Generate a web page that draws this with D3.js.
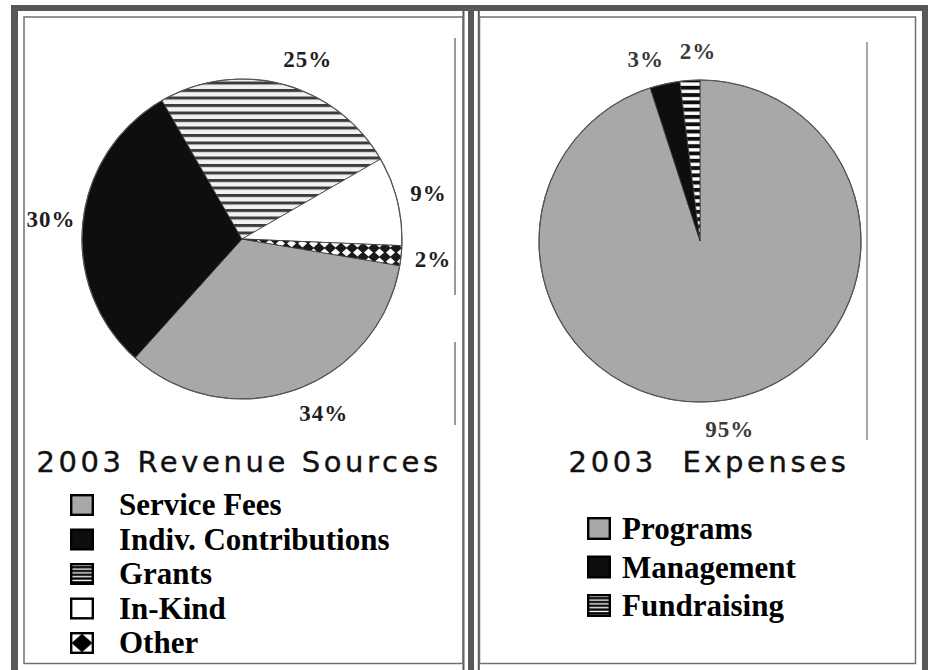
<!DOCTYPE html>
<html>
<head>
<meta charset="utf-8">
<script src="https://cdn.jsdelivr.net/npm/d3@7"></script>
<style>
	body { margin: 0; background: #fff; }
	svg { display: block; }
</style>
</head>
<body>
<div id="chart"></div>
<script>
// Revenue pie
const REVENUE_LABELS = ["Service Fees", "Indiv. Contributions", "Grants", "In-Kind", "Other"];
const REVENUE_VALUES = [34, 30, 25, 9, 2];

// Expense pie
const EXPENSE_LABELS = ["Programs", "Management", "Fundraising"];
const EXPENSE_VALUES = [95, 3, 2];

const TITLES = ["2003 Revenue Sources", "2003\u00A0\u00A0Expenses"];

const GRAY = "#a8a8a8";
const BLACK = "#0e0e0e";
const FRAME = "#585858";

// fills for the pie wedges and for the legend boxes
const PIE_FILL = {
	"Service Fees": GRAY,
	"Indiv. Contributions": BLACK,
	"Grants": "url(#stripes)",
	"In-Kind": "#fff",
	"Other": "url(#diamonds)",
	"Programs": GRAY,
	"Management": BLACK,
	"Fundraising": "url(#dashes)",
};
const KEY_FILL = {
	"Service Fees": GRAY,
	"Indiv. Contributions": BLACK,
	"Grants": "url(#keyStripes)",
	"In-Kind": "#fff",
	"Other": "url(#keyDiamond)",
	"Programs": GRAY,
	"Management": BLACK,
	"Fundraising": "url(#keyStripes)",
};
// small angle nudges (degrees) so labels sit where the original put them
const LABEL_NUDGE = { "Grants": 5, "Service Fees": -6, "Management": -4, "Fundraising": 3 };

var width = 928, height = 670;

var svg = d3.select('#chart').append('svg')
	.attr('width', width)
	.attr('height', height);

var defs = svg.append('defs');

// horizontal stripes for grants
var p = defs.append('pattern').attr('id', 'stripes')
	.attr('patternUnits', 'userSpaceOnUse')
	.attr('width', 8).attr('height', 7.5);
p.append('rect').attr('width', 8).attr('height', 7.5).attr('fill', '#f2f2f2');
p.append('rect').attr('width', 8).attr('height', 3).attr('fill', '#3c3c3c');

// white dashes on black for fundraising
p = defs.append('pattern').attr('id', 'dashes')
	.attr('patternUnits', 'userSpaceOnUse')
	.attr('width', 8).attr('height', 7.3);
p.append('rect').attr('width', 8).attr('height', 7.3).attr('fill', BLACK);
p.append('rect').attr('y', 2).attr('width', 8).attr('height', 3.4).attr('fill', '#fff');

// diamonds for other
p = defs.append('pattern').attr('id', 'diamonds')
	.attr('patternUnits', 'userSpaceOnUse')
	.attr('width', 11).attr('height', 9);
p.append('rect').attr('width', 11).attr('height', 9).attr('fill', '#1a1a1a');
p.append('path').attr('d', 'M5.5,0.5 L10,4.5 L5.5,8.5 L1,4.5 Z').attr('fill', '#fff');

// legend box patterns
p = defs.append('pattern').attr('id', 'keyStripes')
	.attr('patternUnits', 'userSpaceOnUse')
	.attr('width', 4).attr('height', 3.8);
p.append('rect').attr('width', 4).attr('height', 3.8).attr('fill', '#000');
p.append('rect').attr('y', 1.6).attr('width', 4).attr('height', 1.4).attr('fill', '#fff');

p = defs.append('pattern').attr('id', 'keyDiamond')
	.attr('patternUnits', 'objectBoundingBox')
	.attr('patternContentUnits', 'objectBoundingBox')
	.attr('width', 1).attr('height', 1);
p.append('rect').attr('width', 1).attr('height', 1).attr('fill', '#fff');
p.append('path').attr('d', 'M0.5,0.02 L0.98,0.5 L0.5,0.98 L0.02,0.5 Z').attr('fill', '#000');

// Outer frame
svg.append('rect').attr('x', 11).attr('y', 5).attr('width', 917).attr('height', 6).attr('fill', FRAME);
svg.append('rect').attr('x', 11).attr('y', 5).attr('width', 7).attr('height', 665).attr('fill', FRAME);
svg.append('rect').attr('x', 922).attr('y', 5).attr('width', 6).attr('height', 665).attr('fill', FRAME);

// middle divider
svg.append('rect').attr('x', 462.5).attr('y', 11).attr('width', 2).attr('height', 659).attr('fill', FRAME);
svg.append('rect').attr('x', 468).attr('y', 11).attr('width', 6).attr('height', 659).attr('fill', FRAME);
svg.append('rect').attr('x', 477.8).attr('y', 11).attr('width', 2).attr('height', 659).attr('fill', FRAME);

// panels
[[24, 463], [479.5, 915.5]].forEach(function(d) {
	svg.append('rect')
		.attr('x', d[0]).attr('y', 17)
		.attr('width', d[1] - d[0]).attr('height', 646.5)
		.attr('fill', 'none')
		.attr('stroke', '#707070')
		.attr('stroke-width', 1.5);
});

// scan edge lines next to the pies
svg.append('line').attr('x1', 455).attr('x2', 455).attr('y1', 38).attr('y2', 295)
	.attr('stroke', '#333').attr('stroke-width', 1);
svg.append('line').attr('x1', 455).attr('x2', 455).attr('y1', 342).attr('y2', 425)
	.attr('stroke', '#333').attr('stroke-width', 1);
svg.append('line').attr('x1', 867).attr('x2', 867).attr('y1', 42).attr('y2', 440)
	.attr('stroke', '#8a8a8a').attr('stroke-width', 1.5);


function drawPie(opts) {
	var pie = d3.pie()
		.sort(null)
		.value(function(d) { return d.value; })
		.startAngle(opts.start)
		.endAngle(opts.start + 2 * Math.PI);

	var data = opts.labels.map(function(l, i) {
		return { label: l, value: opts.values[i] };
	});
	var arcs = pie(data);

	var arc = d3.arc().innerRadius(0).outerRadius(opts.r);
	var labelArc = d3.arc().innerRadius(opts.labelR).outerRadius(opts.labelR);

	var g = svg.append('g')
		.attr('transform', 'translate(' + opts.cx + ',' + opts.cy + ')');

	g.selectAll('path.slice')
		.data(arcs)
		.enter().append('path')
		.attr('class', 'slice')
		.attr('d', arc)
		.attr('fill', function(d) { return PIE_FILL[d.data.label]; })
		.attr('stroke', '#3a3a3a')
		.attr('stroke-width', 0.8);

	g.append('circle')
		.attr('r', opts.r)
		.attr('fill', 'none')
		.attr('stroke', '#555')
		.attr('stroke-width', 1.2);

	// percent labels
	g.selectAll('text.pct')
		.data(arcs)
		.enter().append('text')
		.attr('class', 'pct')
		.attr('transform', function(d) {
			var nudge = (LABEL_NUDGE[d.data.label] || 0) * Math.PI / 180;
			var c = labelArc.centroid({
				startAngle: d.startAngle + nudge,
				endAngle: d.endAngle + nudge
			});
			return 'translate(' + c[0] + ',' + c[1] + ')';
		})
		.attr('dy', '0.35em')
		.attr('text-anchor', 'middle')
		.attr('font-family', '"Liberation Serif", "Times New Roman", serif')
		.attr('font-weight', 'bold')
		.attr('font-size', 23)
		.attr('letter-spacing', 1)
		.attr('fill', opts.pctColor)
		.text(function(d) { return d.data.value + '%'; });

	// title
	svg.append('text')
		.attr('x', opts.titleX)
		.attr('y', 472)
		.attr('text-anchor', 'middle')
		.attr('font-family', '"DejaVu Sans", Verdana, sans-serif')
		.attr('font-size', 29)
		.attr('letter-spacing', 3.6)
		.attr('fill', '#111')
		.attr('stroke', '#111')
		.attr('stroke-width', 0.4)
		.text(opts.title);

	// legend
	var rowY = d3.scaleLinear()
		.domain([0, opts.labels.length - 1])
		.range(opts.keyRows);

	var key = svg.append('g').attr('class', 'legend');
	var rows = key.selectAll('g')
		.data(opts.labels)
		.enter().append('g')
		.attr('transform', function(d, i) { return 'translate(0,' + rowY(i) + ')'; });

	rows.append('rect')
		.attr('x', opts.keyX + 1.2)
		.attr('y', 1.2)
		.attr('width', 21.6)
		.attr('height', opts.boxH - 2.4)
		.attr('fill', function(d) { return KEY_FILL[d]; })
		.attr('stroke', '#000')
		.attr('stroke-width', 2.4);

	rows.append('text')
		.attr('x', opts.textX)
		.attr('y', opts.boxH - 1)
		.attr('font-family', '"Liberation Serif", "Times New Roman", serif')
		.attr('font-weight', 'bold')
		.attr('font-size', 31)
		.attr('fill', '#000')
		.text(function(d) { return d; });
}

drawPie({
	labels: REVENUE_LABELS,
	values: REVENUE_VALUES,
	cx: 242, cy: 239, r: 160, labelR: 192,
	start: 99.6 * Math.PI / 180,
	pctColor: '#1e1e1e',
	title: TITLES[0], titleX: 239,
	keyX: 70, textX: 119, boxH: 22, keyRows: [494, 632]
});

drawPie({
	labels: EXPENSE_LABELS,
	values: EXPENSE_VALUES,
	cx: 700, cy: 241, r: 161, labelR: 190,
	start: 0,
	pctColor: '#3a3a3a',
	title: TITLES[1], titleX: 709,
	keyX: 587, textX: 622, boxH: 23, keyRows: [517, 594]
});
</script>
</body>
</html>
